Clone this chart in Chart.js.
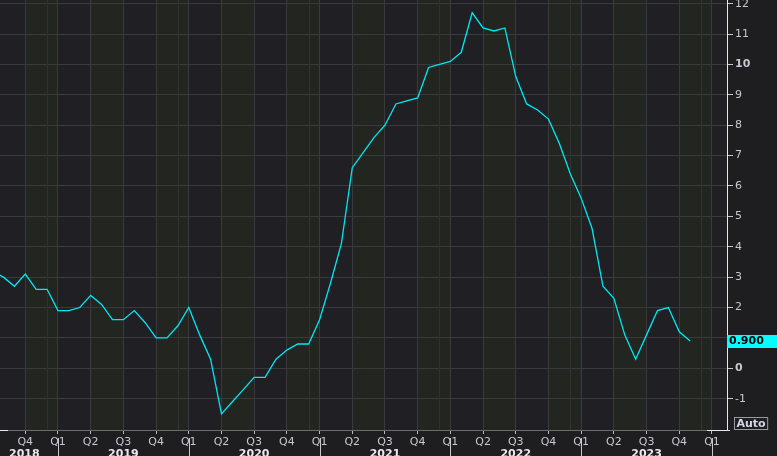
<!DOCTYPE html>
<html lang="en">
<head>
  <meta charset="UTF-8">
  <title>Monthly rate</title>
  <script src="https://cdn.jsdelivr.net/npm/chart.js"></script>
  <style>
    html, body { margin: 0; padding: 0; background: #1e1e21; }
    #chartBox { width: 777px; height: 456px; }
  </style>
</head>
<body>
  <div id="chartBox"><canvas id="chart" width="777" height="456"></canvas></div>
  <script>
    // monthly values, first one is July 2018
    const firstMonth = '2018-07';
    const values = [
      3.2, 3.0, 2.7, 3.1, 2.6, 2.6,
      1.9, 1.9, 2.0, 2.4, 2.1, 1.6, 1.6, 1.9, 1.5, 1.0, 1.0, 1.4,
      2.0, 1.1, 0.3, -1.5, -1.1, -0.7, -0.3, -0.3, 0.3, 0.6, 0.8, 0.8,
      1.6, 2.8, 4.1, 6.6, 7.1, 7.6, 8.0, 8.7, 8.8, 8.9, 9.9, 10.0,
      10.1, 10.4, 11.7, 11.2, 11.1, 11.2, 9.6, 8.7, 8.5, 8.2, 7.4, 6.4,
      5.6, 4.6, 2.7, 2.3, 1.1, 0.3, 1.1, 1.9, 2.0, 1.2, 0.9
    ];
    const yTicks = [-1, 0, 1, 2, 3, 4, 5, 6, 7, 8, 9, 10, 11, 12];
    const boldTicks = [0, 10];
    const quarterNames = ['Q1', 'Q2', 'Q3', 'Q4'];
    const years = ['2018', '2019', '2020', '2021', '2022', '2023'];
    const lastLabel = '0.900';
    const autoLabel = 'Auto';

    // x is counted in months from January 2019
    const [fy, fm] = firstMonth.split('-').map(Number);
    const base = (fy - 2019) * 12 + (fm - 1);
    const points = values.map((v, i) => ({ x: base + i, y: v }));
    const lastValue = values[values.length - 1];

    Chart.defaults.font.family = '"DejaVu Sans", sans-serif';
    Chart.defaults.font.size = 11;

    const BG = '#1e1e21';
    const BAND_A = '#201f23';
    const BAND_B = '#222520';
    const GRID = '#3a3a3d';
    const TEXT = '#c6c7d0';

    const decor = {
      id: 'decor',
      beforeDraw(chart) {
        const { ctx, chartArea: a, scales: { x } } = chart;
        ctx.save();
        ctx.fillStyle = BG;
        ctx.fillRect(0, 0, chart.width, chart.height);
        // quarter bands
        for (let q = Math.floor(x.min / 3) * 3; q < x.max; q += 3) {
          const x0 = Math.max(a.left, x.getPixelForValue(q));
          const x1 = Math.min(a.right, x.getPixelForValue(q + 3));
          const qi = ((q % 12) + 12) % 12 / 3;
          ctx.fillStyle = (qi % 2 === 1) ? BAND_B : BAND_A;
          if (x1 > x0) ctx.fillRect(x0, a.top, x1 - x0, a.bottom - a.top);
        }
        ctx.restore();
      },
      beforeDatasetsDraw(chart) {
        const { ctx, chartArea: a, scales: { x } } = chart;
        ctx.save();
        ctx.strokeStyle = '#303131';
        ctx.lineWidth = 1;
        // faint line one month before each year start
        for (let m = Math.ceil((x.min + 1) / 12) * 12 - 1; m < x.max; m += 12) {
          const px = Math.round(x.getPixelForValue(m)) + 0.5;
          ctx.beginPath();
          ctx.moveTo(px, a.top);
          ctx.lineTo(px, a.bottom);
          ctx.stroke();
        }
        ctx.restore();
      },
      afterDraw(chart) {
        const { ctx, chartArea: a, scales: { x, y } } = chart;
        ctx.save();
        // year dividers and year names under the axis
        ctx.strokeStyle = '#c8c8c8';
        ctx.lineWidth = 1;
        for (let m = Math.ceil(x.min / 12) * 12; m <= x.max; m += 12) {
          const px = Math.round(x.getPixelForValue(m)) + 0.5;
          ctx.beginPath();
          ctx.moveTo(px, a.bottom + 8);
          ctx.lineTo(px, chart.height);
          ctx.stroke();
        }
        ctx.font = 'bold 11px "DejaVu Sans", sans-serif';
        ctx.fillStyle = '#e8e8ee';
        ctx.textAlign = 'center';
        ctx.textBaseline = 'top';
        years.forEach((yr) => {
          const m0 = (Number(yr) - 2019) * 12;
          const s = Math.max(a.left, x.getPixelForValue(m0));
          const e = Math.min(a.right, x.getPixelForValue(m0 + 12));
          if (e <= s) return;
          const w = ctx.measureText(yr).width;
          let cx = (s + e) / 2;
          if (s === a.left) cx = Math.max(a.left + w / 2 + 9, (s + e) / 2 - 6);
          ctx.fillText(yr, cx, a.bottom + 19);
        });
        // bright bits of the bottom axis
        ctx.strokeStyle = '#e6e6e6';
        ctx.beginPath();
        ctx.moveTo(a.left, a.bottom + 0.5);
        ctx.lineTo(a.left + 8, a.bottom + 0.5);
        ctx.moveTo(a.right - 20, a.bottom + 0.5);
        ctx.lineTo(a.right + 3, a.bottom + 0.5);
        ctx.stroke();
        // last value marker
        const ly = Math.round(y.getPixelForValue(lastValue));
        ctx.fillStyle = '#00ffff';
        ctx.fillRect(a.right, ly - 6, chart.width - a.right, 13);
        ctx.fillStyle = '#000000';
        ctx.textAlign = 'left';
        ctx.textBaseline = 'middle';
        ctx.fillText(lastLabel, a.right + 2, ly + 0.5);
        // Auto box
        const aw = ctx.measureText(autoLabel).width + 4;
        ctx.strokeStyle = '#9a9aa2';
        ctx.strokeRect(a.right + 7.5, a.bottom - 12.5, aw, 12);
        ctx.fillStyle = '#d4d6e4';
        ctx.fillText(autoLabel, a.right + 9.5, a.bottom - 6);
        ctx.restore();
      }
    };

    new Chart(document.getElementById('chart'), {
      type: 'line',
      data: {
        datasets: [{
          data: points,
          borderColor: '#00e8f4',
          borderWidth: 1.3,
          pointRadius: 0,
          tension: 0,
          fill: false
        }]
      },
      options: {
        responsive: false,
        animation: false,
        layout: { padding: 0 },
        plugins: { legend: { display: false }, tooltip: { enabled: false } },
        scales: {
          x: {
            type: 'linear',
            min: -5.32,
            max: 61.38,
            afterBuildTicks(scale) {
              const t = [];
              for (let q = Math.ceil(scale.min / 3) * 3; q <= scale.max; q += 3) t.push({ value: q });
              scale.ticks = t;
            },
            afterFit(scale) {
              scale.height = 26;
              scale.paddingLeft = 0;
              scale.paddingRight = 0;
            },
            ticks: {
              autoSkip: false,
              maxRotation: 0,
              padding: 2,
              color: TEXT,
              callback: (v) => quarterNames[((v % 12) + 12) % 12 / 3]
            },
            grid: { color: GRID, tickColor: '#b8b8bc', tickLength: 4 },
            border: { color: '#6c6c70' }
          },
          y: {
            position: 'right',
            min: -2.03,
            max: 12.12,
            afterBuildTicks(scale) {
              scale.ticks = yTicks.map(v => ({ value: v }));
            },
            afterFit(scale) {
              scale.width = 50;
              scale.paddingTop = 0;
              scale.paddingBottom = 0;
            },
            ticks: {
              padding: 2,
              color: TEXT,
              // the last value marker hides the label it sits on
              callback: (v) => (Math.abs(v - lastValue) < 0.35 ? '' : String(v)),
              font: (c) => ({ weight: boldTicks.includes(c.tick && c.tick.value) ? 'bold' : 'normal' })
            },
            grid: { color: GRID, tickColor: '#c8c8cc', tickLength: 6 },
            border: { color: '#e8e8e8' }
          }
        }
      },
      plugins: [decor]
    });
  </script>
</body>
</html>
